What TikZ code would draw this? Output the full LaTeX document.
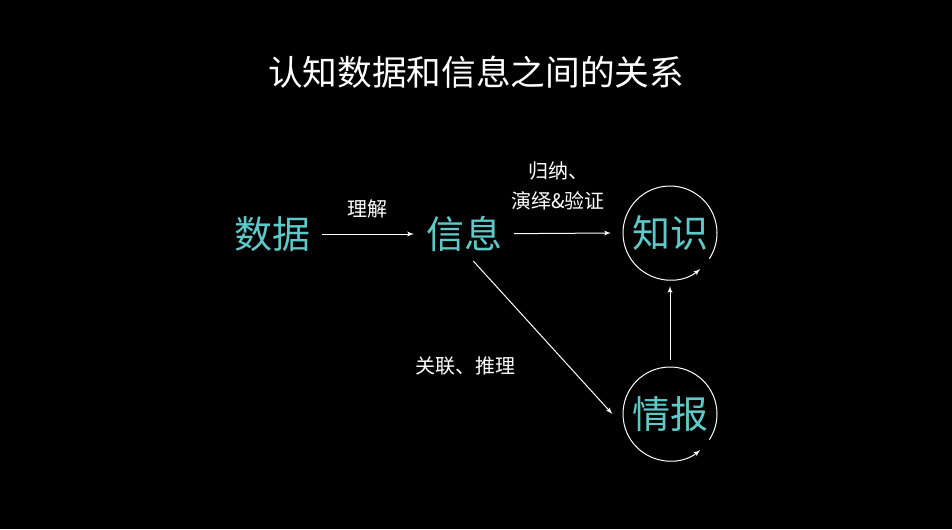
\documentclass[tikz,border=0pt]{standalone}
\usepackage{fontspec}
\setmainfont{Noto Sans CJK SC}
\usetikzlibrary{arrows,positioning}
\definecolor{termcyan}{RGB}{95,200,200}

\begin{document}
\begin{tikzpicture}[x=0.75pt, y=-0.75pt, >=latex', 
    term/.style={text=termcyan, font=\fontsize{28.5}{32}\selectfont, inner sep=0pt, outer sep=9pt},
    ring/.style={circle, minimum size=70.5pt, outer sep=0pt},
    lbl/.style={text=white, font=\fontsize{15}{22}\selectfont, align=center},
    line/.style={draw=white, ->, line width=0.75pt}]

    \fill[black] (0,0) rectangle (952,529);
    \useasboundingbox (0,0) rectangle (952,529);

    \node [text=white, font=\fontsize{26}{30}\selectfont] (title) at (476,72) {认知数据和信息之间的关系};

    \node [term] (data) at (272,234) {数据};
    \node [term] (info) at (464,234) {信息};
    \node [term, ring] (know) at (670,233) {知识};
    \node [term, ring] (intel) at (670,414) {情报};

    \node [lbl] (understand) at (367,209) {理解};
    \node [lbl] (induce) at (558,186) {归纳、\\演绎\&验证};
    \node [lbl] (relate) at (465,366) {关联、推理};

    % circular arrows round the two rings
    \draw [white, ->, line width=0.75pt] (know.-33) arc [start angle=-33, end angle=310, radius=35.25pt];
    \draw [white, ->, line width=0.75pt] (intel.-33) arc [start angle=-33, end angle=310, radius=35.25pt];

    \path [line] (data) -- (info);
    \path [line] (info) -- ([xshift=-9pt]know.west);
    \path [line] ([xshift=7pt, yshift=2pt]info.south) -- ([xshift=-8pt]intel.west);
    \path [line] ([yshift=5pt]intel.north) -- ([yshift=-4.5pt]know.south);
\end{tikzpicture}
\end{document}
